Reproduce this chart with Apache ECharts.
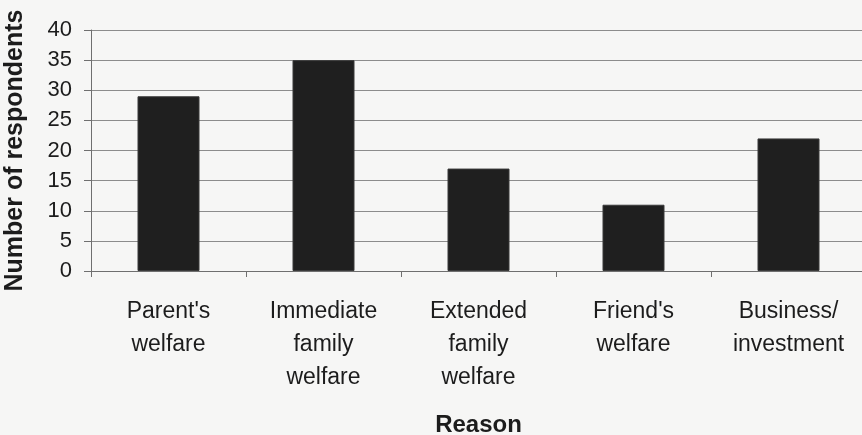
<!DOCTYPE html>
<html>
<head>
<meta charset="utf-8">
<script src="https://cdn.jsdelivr.net/npm/echarts@6/dist/echarts.min.js"></script>
<style>
  html, body { margin: 0; padding: 0; background: #f6f6f5; }
  #chart { width: 862px; height: 435px; }
</style>
</head>
<body>
<div id="chart"></div>
<script>
// Reasons for sending remittances and how many respondents named each
const categories = [
  "Parent's\nwelfare",
  "Immediate\nfamily\nwelfare",
  "Extended\nfamily\nwelfare",
  "Friend's\nwelfare",
  "Business/\ninvestment"
];
const respondents = [29, 35, 17, 11, 22];

const FONT = '"Liberation Sans", Arial, sans-serif';
const TEXT = '#1c1c1c';
const GRID = '#8c8c8c';

const chart = echarts.init(document.getElementById('chart'), null, { renderer: 'canvas' });
chart.setOption({
  backgroundColor: '#f6f6f5',
  animation: false,
  grid: { left: 91, top: 30, right: -4, bottom: 164, containLabel: false, outerBoundsMode: 'none' },
  xAxis: {
    type: 'category',
    data: categories,
    name: 'Reason',
    nameLocation: 'middle',
    nameGap: 142,
    nameTextStyle: { fontFamily: FONT, fontSize: 24, fontWeight: 'bold', color: TEXT },
    axisLine: { lineStyle: { color: '#6f6f6f', width: 1 } },
    axisTick: { show: true, length: 6, alignWithLabel: false, lineStyle: { color: '#6f6f6f' } },
    axisLabel: {
      interval: 0,
      margin: 24,
      fontFamily: FONT,
      fontSize: 23,
      lineHeight: 33,
      color: TEXT
    }
  },
  yAxis: {
    type: 'value',
    min: 0,
    max: 40,
    interval: 5,
    name: 'Number of respondents',
    nameLocation: 'middle',
    nameRotate: 90,
    nameGap: 63,
    nameTextStyle: { fontFamily: FONT, fontSize: 25, fontWeight: 'bold', color: TEXT },
    axisLine: { show: true, lineStyle: { color: '#6f6f6f', width: 1 } },
    axisTick: { show: true, length: 7, lineStyle: { color: '#6f6f6f' } },
    axisLabel: { margin: 19, fontFamily: FONT, fontSize: 22, color: TEXT },
    splitLine: { show: true, lineStyle: { color: GRID, width: 1 } }
  },
  series: [{
    type: 'bar',
    data: respondents,
    barWidth: '40%',
    itemStyle: { color: '#1f1f1f', borderColor: '#3a3a3a', borderWidth: 1 }
  }]
});
</script>
</body>
</html>
